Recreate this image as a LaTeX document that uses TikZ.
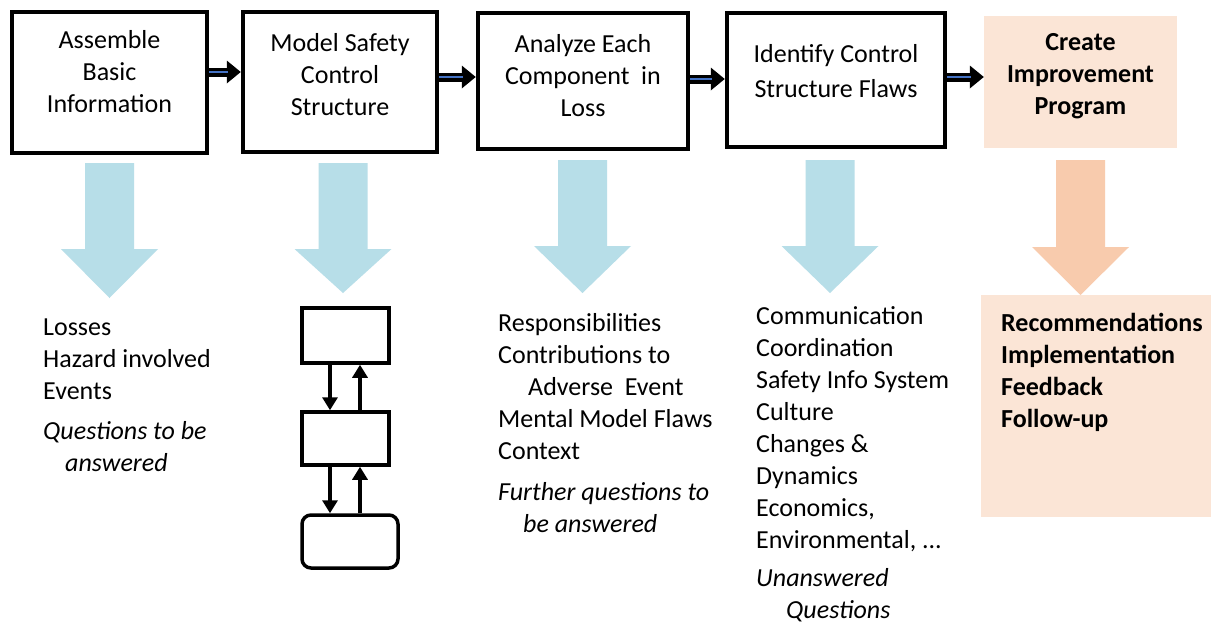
\documentclass[tikz,border=0pt]{standalone}
\usepackage{fontspec}
\setmainfont{Carlito}
\usetikzlibrary{arrows.meta,calc}
\definecolor{arrblue}{RGB}{68,114,196}
\definecolor{lblue}{RGB}{183,222,232}
\definecolor{peach}{RGB}{248,203,173}
\definecolor{peachlt}{RGB}{251,229,214}
\newcommand{\flowarr}[3]{%
  \coordinate (fa-s) at (#1.east |- 0,#3);
  \coordinate (fa-e) at (#2.west |- 0,#3);
  \fill (fa-e) -- ([shift={(-14pt,-11.5pt)}]fa-e) -- ([shift={(-14pt,11.5pt)}]fa-e) -- cycle;
  \draw[line width=3.5pt, double=arrblue, double distance=2pt] (fa-s) -- ([xshift=-13pt]fa-e);
}
\newcommand{\bigdown}[5]{%
  \fill[#5] (#1-24.5,#2) -- (#1+24.5,#2) -- (#1+24.5,#3) -- (#1+48.5,#3) -- (#1,#4)
    -- (#1-48.5,#3) -- (#1-24.5,#3) -- cycle;
}
\begin{document}
\begin{tikzpicture}[x=1pt,y=-1pt,
  stepbox/.style={draw, line width=4.5pt, inner sep=0pt},
  boxtext/.style={font=\fontsize{26}{32}\selectfont, align=center, inner sep=0pt},
  listtext/.style={font=\fontsize{26}{32}\selectfont, align=left, inner sep=0pt, anchor=north west},
  cbox/.style={draw, line width=3.5pt, inner sep=0pt},
  carrow/.style={line width=3.5pt, -{Triangle[length=13pt,width=15pt]}}]
\useasboundingbox (0,0) rectangle (1211,624);
\fill[white] (0,0) rectangle (1211,624);

% top boxes
\node[stepbox, minimum width=195pt, minimum height=141pt] (b1) at (109.5,82.5) {};
\node[stepbox, minimum width=194pt, minimum height=140pt] (b2) at (340,82) {};
\node[stepbox, minimum width=210pt, minimum height=136pt] (b3) at (583,81) {};
\node[stepbox, minimum width=218pt, minimum height=134pt] (b4) at (836,80) {};
\node[fill=peachlt, inner sep=0pt, minimum width=193pt, minimum height=132pt] (b5) at (1080.5,82) {};

\node[boxtext] (t1) at (109.5,72) {Assemble\\Basic\\Information};
\node[boxtext] (t2) at (340,75) {Model Safety\\Control\\Structure};
\node[boxtext] (t3) at (583,76) {Analyze Each\\Component\ \ in\\Loss};
\node[boxtext, font=\fontsize{26}{35}\selectfont] (t4) at (836,71) {Identify Control\\Structure Flaws};
\node[boxtext, font=\fontsize{26}{32}\selectfont\bfseries] (t5) at (1080.5,76) {Create\\Improvement\\Program};

% connectors
\flowarr{b1}{b2}{72}
\flowarr{b2}{b3}{77}
\flowarr{b3}{b4}{79}
\flowarr{b4}{b5}{77}

% big down arrows
\bigdown{109.5}{163}{249}{298}{lblue}
\bigdown{343}{163}{249}{293}{lblue}
\bigdown{582.5}{160}{246}{293}{lblue}
\bigdown{830}{160}{246}{293}{lblue}

% result box
\node[fill=peachlt, inner sep=0pt, minimum width=230pt, minimum height=222pt] (b6) at (1096,406) {};
\bigdown{1080.5}{160}{247}{295}{peach}

% lists
\node[listtext] (l1) at (43,319) {Losses\\Hazard involved\\Events\\[8pt]\textit{Questions to be}\\\hspace*{22pt}\textit{answered}};
\node[listtext] (l3) at (498,313) {Responsibilities\\Contributions to\\\hspace*{30pt}Adverse\ \ Event\\Mental Model Flaws\\Context\\[9pt]\textit{Further questions to}\\\hspace*{25pt}\textit{be answered}};
\node[listtext] (l4) at (756,306) {Communication\\Coordination\\Safety Info System\\Culture\\Changes \&\\Dynamics\\Economics,\\Environmental, ...\\[6pt]\textit{Unanswered}\\\hspace*{30pt}\textit{Questions}};
\node[listtext, font=\fontsize{26}{32}\selectfont\bfseries] (l5) at (1001,313) {Recommendations\\Implementation\\Feedback\\Follow-up};

% control structure sketch
\node[cbox, minimum width=87pt, minimum height=55pt] (cA) at (345.5,335.5) {};
\node[cbox, minimum width=87pt, minimum height=53pt] (cB) at (345.5,438.5) {};
\node[cbox, rounded corners=9pt, minimum width=96pt, minimum height=53pt] (cC) at (350,541.5) {};
\draw[carrow] (cA.south -| 330,0) -- (cB.north -| 330,0);
\draw[carrow] (cB.north -| 360,0) -- (cA.south -| 360,0);
\draw[carrow] (cB.south -| 330,0) -- (cC.north -| 330,0);
\draw[carrow] (cC.north -| 360,0) -- (cB.south -| 360,0);
\end{tikzpicture}
\end{document}
